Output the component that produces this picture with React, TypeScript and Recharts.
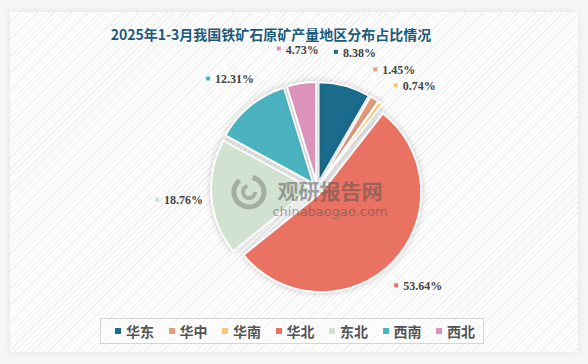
import { Legend, Pie, PieChart, Sector } from "recharts"

const regions = ["华东", "华中", "华南", "华北", "东北", "西南", "西北"]
const shares = [8.38, 1.45, 0.74, 53.64, 18.76, 12.31, 4.73]
const colors = ["#1b6b8d", "#e89e7c", "#fbc67b", "#e97262", "#d2e2d0", "#4ab3bf", "#dd92b9"]

const title = "2025年1-3月我国铁矿石原矿产量地区分布占比情况"

const data = regions.map((name, i) => ({ name, value: shares[i], fill: colors[i] }))

const RAD = Math.PI / 180
const EXPLODE = 6
const LABEL_GAP = 40
const MIN_SPACING = 16

// label positions on a circle, pushed apart vertically when they collide (per side)
const layoutLabels = (cx: number, cy: number, r: number) => {
  const total = shares.reduce((a, b) => a + b, 0)
  let acc = 0
  const pts = shares.map((v, i) => {
    const mid = 90 - ((acc + v / 2) / total) * 360
    acc += v
    return { i, x: cx + r * Math.cos(mid * RAD), y: cy - r * Math.sin(mid * RAD), right: Math.cos(mid * RAD) >= 0 }
  })
  for (const side of [true, false]) {
    const group = pts.filter((p) => p.right === side).sort((a, b) => a.y - b.y)
    for (let k = 1; k < group.length; k++) {
      if (group[k].y - group[k - 1].y < MIN_SPACING) {
        group[k].y = group[k - 1].y + MIN_SPACING
        const dy = group[k].y - cy
        const dx = Math.sqrt(Math.max(r * r - dy * dy, 0))
        group[k].x = cx + (side ? dx : -dx)
      }
    }
  }
  return pts
}

const renderSlice = (props: any) => {
  const { cx, cy, midAngle } = props
  const dx = EXPLODE * Math.cos(-midAngle * RAD)
  const dy = EXPLODE * Math.sin(-midAngle * RAD)
  return (
    <Sector
      {...props}
      cx={cx + dx}
      cy={cy + dy}
      stroke="#fff"
      strokeWidth={2}
      style={{ filter: "drop-shadow(0 0 3px rgba(0,0,0,0.22))" }}
    />
  )
}

const renderLabel = (props: any) => {
  const { cx, cy, outerRadius, value, index } = props
  const pts = layoutLabels(cx, cy, outerRadius + LABEL_GAP)
  const { x, y } = pts[index]
  const text = `${Number(value).toFixed(2)}%`
  const w = text.length * 6 + 9
  const left = x - w / 2
  return (
    <g>
      <rect x={left} y={y - 3} width={4} height={4} fill={colors[index]} />
      <text
        x={left + 9}
        y={y}
        dy={4}
        textAnchor="start"
        fontSize={12}
        fontWeight="bold"
        fontFamily="'Liberation Serif', serif"
        fill="#444"
      >
        {text}
      </text>
    </g>
  )
}

const LegendBox = () => (
  <div
    style={{
      display: "flex",
      alignItems: "center",
      justifyContent: "space-between",
      border: "1px solid #d6d6d6",
      height: 26,
      padding: "0 8px 0 14px",
      boxSizing: "border-box",
      background: "rgba(255,255,255,0.4)",
    }}
  >
    {regions.map((name, i) => (
      <div key={name} style={{ display: "flex", alignItems: "center" }}>
        <span style={{ width: 6, height: 6, background: colors[i], marginRight: 5, display: "inline-block" }} />
        <span style={{ fontSize: 14, fontWeight: "bold", color: "#555", fontFamily: "'Noto Sans CJK SC', sans-serif" }}>
          {name}
        </span>
      </div>
    ))}
  </div>
)

export default function App() {
  return (
    <div style={{ position: "relative", width: 588, height: 364, background: "#f6f6f6", overflow: "hidden" }}>
      <style>{"body{margin:0}"}</style>
      <div
        style={{
          position: "absolute",
          left: 10,
          top: 12,
          width: 568,
          height: 340,
          background:
            "repeating-linear-gradient(135deg, #ffffff 0px, #ffffff 3px, #efefef 3px, #efefef 4px)",
          boxShadow: "0 0 8px rgba(0,0,0,0.08)",
        }}
      />
      <div
        style={{
          position: "absolute",
          left: 0,
          top: 24,
          width: 542,
          textAlign: "center",
          fontSize: 14,
          fontWeight: "bold",
          color: "#1d5b7b",
          fontFamily: "'Noto Sans CJK SC', sans-serif",
          lineHeight: "20px",
        }}
      >
        {title}
      </div>
      <div style={{ position: "absolute", left: 0, top: 0 }}>
        <PieChart width={588} height={364}>
          <Pie
            data={data}
            dataKey="value"
            nameKey="name"
            cx={312}
            cy={183}
            outerRadius={100}
            startAngle={90}
            endAngle={-270}
            isAnimationActive={false}
            labelLine={false}
            label={renderLabel}
            shape={renderSlice}
            activeShape={renderSlice}
            inactiveShape={renderSlice}
          />
          <Legend
            content={<LegendBox />}
            wrapperStyle={{ position: "absolute", left: 100, top: 318, width: 384, height: 26 }}
          />
        </PieChart>
      </div>
      {/* watermark */}
      <svg style={{ position: "absolute", left: 229, top: 173, pointerEvents: "none" }} width={40} height={38}>
        <circle cx={20} cy={19} r={15} fill="none" stroke="rgba(110,110,110,0.45)" strokeWidth={5} strokeDasharray="60 14" />
        <circle cx={20} cy={19} r={6} fill="none" stroke="rgba(110,110,110,0.45)" strokeWidth={4} strokeDasharray="26 12" />
      </svg>
      <div
        style={{
          position: "absolute",
          left: 272,
          top: 177,
          width: 116,
          textAlign: "center",
          color: "rgba(80,80,80,0.5)",
          fontFamily: "'Noto Sans CJK SC', sans-serif",
          pointerEvents: "none",
        }}
      >
        <div style={{ fontSize: 21, fontWeight: "bold", lineHeight: "26px" }}>观研报告网</div>
        <div style={{ fontSize: 13, lineHeight: "16px", marginTop: 1, fontFamily: "'DejaVu Sans', sans-serif" }}>
          chinabaogao.com
        </div>
      </div>
    </div>
  )
}
